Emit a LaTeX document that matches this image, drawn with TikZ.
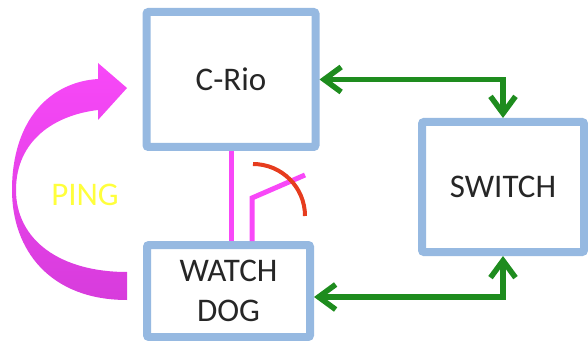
\documentclass[tikz,border=0pt]{standalone}
\usepackage{fontspec}
\setmainfont{Carlito}
\usepackage{tikz}
\usetikzlibrary{arrows.meta}

\definecolor{boxblue}{RGB}{150,185,225}
\definecolor{linkgreen}{RGB}{30,140,30}
\definecolor{pingpink}{RGB}{248,72,248}
\definecolor{pingdark}{RGB}{215,60,220}
\definecolor{signalred}{RGB}{230,60,30}
\definecolor{pingyellow}{RGB}{255,255,60}

\begin{document}
\begin{tikzpicture}[x=1pt,y=1pt,
  box/.style={draw=boxblue,line width=8pt,rounded corners=2pt,fill=white,text=black!85,
    font=\fontsize{33}{40}\selectfont,align=center},
  link/.style={draw=linkgreen,line width=5.5pt,
    {Straight Barb[length=17pt,width=25pt]}-{Straight Barb[length=17pt,width=25pt]}},
  wire/.style={draw=pingpink,line width=5pt}]
\useasboundingbox (0,0) rectangle (588,340);

% draw the three boxes
\node[box,minimum width=169pt,minimum height=135pt] (crio) at (231,260.5) {C-Rio};
\node[box,minimum width=162pt,minimum height=130pt] (switch) at (503,153) {SWITCH};
\node[box,minimum width=163pt,minimum height=92pt] (watchdog) at (228.5,49) {WATCH\\DOG};

% draw the links to the switch
\draw[link] (crio.east) -| (switch.north);
\draw[link] ([yshift=-6pt]watchdog.east) -| (switch.south);

% draw the ping arrow
\shade[top color=pingpink,bottom color=pingdark]
  (127,40) .. controls (50,40) and (12,90) .. (12,150)
  .. controls (12,220) and (50,258) .. (98,261)
  -- (98,277) -- (127,252) -- (98,220) -- (98,230)
  .. controls (55,225) and (16,200) .. (16,150)
  .. controls (16,100) and (60,68) .. (127,68) -- cycle;
\node[text=pingyellow,font=\fontsize{33}{40}\selectfont] (ping) at (85,145) {PING};

% draw the wires and the antenna
\coordinate (bend) at (252,142);
\coordinate (aerial) at (305,165);
\draw[wire] (crio.south) -- (crio.south |- watchdog.north);
\draw[wire] (bend |- watchdog.north) -- (bend) -- (aerial);
\draw[signalred,line width=4pt] (253,176) arc[start angle=90, end angle=0, radius=52];
\end{tikzpicture}
\end{document}
